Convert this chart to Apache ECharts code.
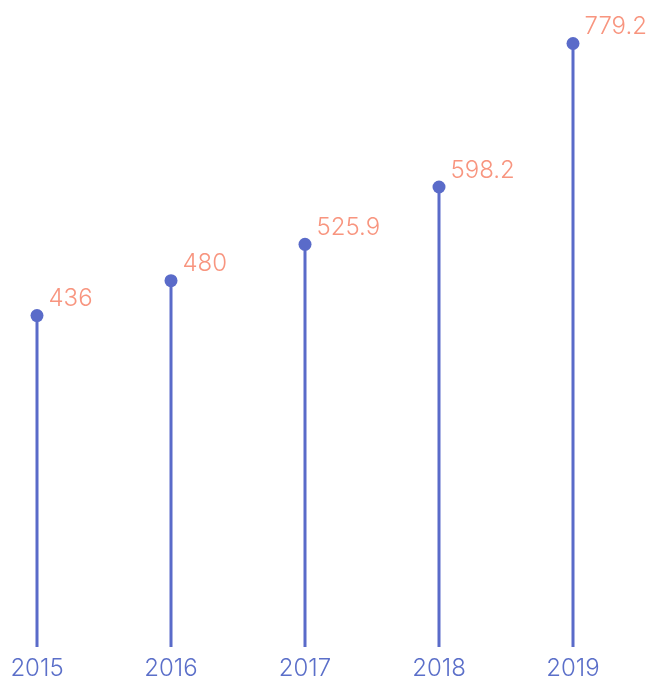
<!DOCTYPE html>
<html>
<head>
<meta charset="utf-8">
<script src="https://cdn.jsdelivr.net/npm/echarts@6/dist/echarts.min.js"></script>
<style>html,body{margin:0;padding:0;background:#fff;}#c{width:653px;height:679px;}</style>
</head>
<body>
<div id="c"></div>
<script>
const categories = ['2015', '2016', '2017', '2018', '2019'];
const values = [436, 480, 525.9, 598.2, 779.2];

const chart = echarts.init(document.getElementById('c'));
const stemColor = '#5a6bc9';
chart.setOption({
  animation: false,
  grid: { left: 37, right: 80, top: 27, bottom: 32, containLabel: false, outerBoundsMode: 'none' },
  xAxis: {
    type: 'category',
    data: categories,
    boundaryGap: false,
    axisLine: { show: false },
    axisTick: { show: false },
    axisLabel: { color: '#5b6fc9', fontSize: 24, fontWeight: 300, fontFamily: 'Inter', margin: 10 }
  },
  yAxis: {
    type: 'value',
    min: 18,
    max: 800,
    show: false,
    splitLine: { show: false }
  },
  series: [
    {
      type: 'bar',
      data: values,
      barWidth: 3,
      itemStyle: { color: stemColor },
      silent: true
    },
    {
      type: 'scatter',
      data: values,
      symbolSize: 13,
      itemStyle: { color: stemColor, opacity: 1 },
      label: {
        show: true,
        position: [18, -10],
        align: 'left',
        verticalAlign: 'middle',
        color: '#f8957f',
        fontSize: 24,
        fontWeight: 300,
        fontFamily: 'Inter'
      }
    }
  ]
});
</script>
</body>
</html>
